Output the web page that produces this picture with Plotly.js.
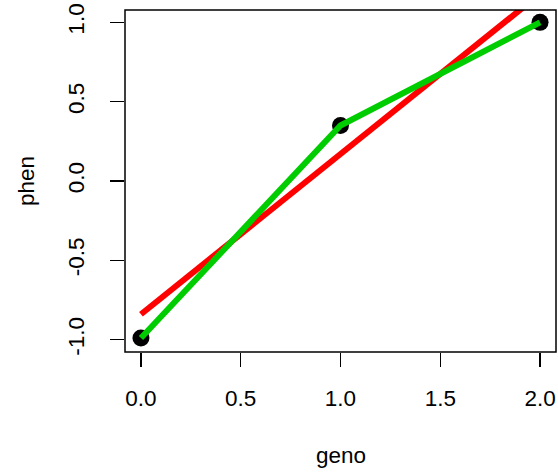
<!DOCTYPE html>
<html>
<head>
<meta charset="utf-8">
<script src="https://cdn.plot.ly/plotly-3.0.1.min.js"></script>
<style>html,body{margin:0;padding:0;background:#fff;}#plot{width:558px;height:474px;}</style>
</head>
<body>
<div id="plot"></div>
<script>
// data
const geno = [0, 1, 2];
const phen = [-0.99, 0.35, 1.0];
const fitGeno = [0, 2];
const fitPhen = [-0.84, 1.18];
const xTicks = [0, 0.5, 1, 1.5, 2];
const xTickText = ["0.0", "0.5", "1.0", "1.5", "2.0"];
const yTicks = [-1, -0.5, 0, 0.5, 1];
const yTickText = ["-1.0", "-0.5", "0.0", "0.5", "1.0"];

const FONT = "Liberation Sans, Arial, Helvetica, sans-serif";
const FS = 22.5;

const traces = [
  {x: geno, y: phen, mode: "markers", type: "scatter",
   marker: {color: "#000000", size: 17}, hoverinfo: "skip", cliponaxis: true},
  {x: fitGeno, y: fitPhen, mode: "lines", type: "scatter",
   line: {color: "#FF0000", width: 6}, hoverinfo: "skip"},
  {x: geno, y: phen, mode: "lines", type: "scatter",
   line: {color: "#00CD00", width: 6}, hoverinfo: "skip"}
];

const layout = {
  width: 558, height: 474,
  margin: {l: 124.5, r: 2, t: 9.7, b: 122.3, pad: 0},
  paper_bgcolor: "#ffffff", plot_bgcolor: "#ffffff",
  showlegend: false,
  font: {family: FONT, size: FS, color: "#000000"},
  xaxis: {
    range: [-0.08, 2.08], tickmode: "array", tickvals: xTicks, ticktext: xTickText,
    ticks: "outside", ticklen: 14, tickwidth: 1.5, tickcolor: "#000",
    showgrid: false, zeroline: false, showline: false,
    ticklabelstandoff: 12,
    tickfont: {family: FONT, size: FS, color: "#000"}
  },
  yaxis: {
    range: [-1.078, 1.078], tickmode: "array", tickvals: yTicks, ticktext: yTickText,
    ticks: "outside", ticklen: 14, tickwidth: 1.5, tickcolor: "#000",
    tickangle: -90,
    showgrid: false, zeroline: false, showline: false,
    ticklabelstandoff: 17,
    tickfont: {family: FONT, size: FS, color: "#000"}
  },
  shapes: [
    {type: "rect", xref: "paper", yref: "paper", x0: 0, x1: 1, y0: 0, y1: 1,
     line: {color: "#000", width: 1.5}, fillcolor: "rgba(0,0,0,0)"}
  ],
  annotations: [
    {text: "geno", xref: "paper", yref: "paper", x: 0.5, y: -0.302,
     xanchor: "center", yanchor: "middle", showarrow: false,
     font: {family: FONT, size: FS, color: "#000"}},
    {text: "phen", xref: "paper", yref: "paper", x: -0.228, y: 0.499,
     xanchor: "center", yanchor: "middle", showarrow: false, textangle: -90,
     font: {family: FONT, size: FS, color: "#000"}}
  ]
};

Plotly.newPlot("plot", traces, layout, {displayModeBar: false, staticPlot: true});
</script>
</body>
</html>
